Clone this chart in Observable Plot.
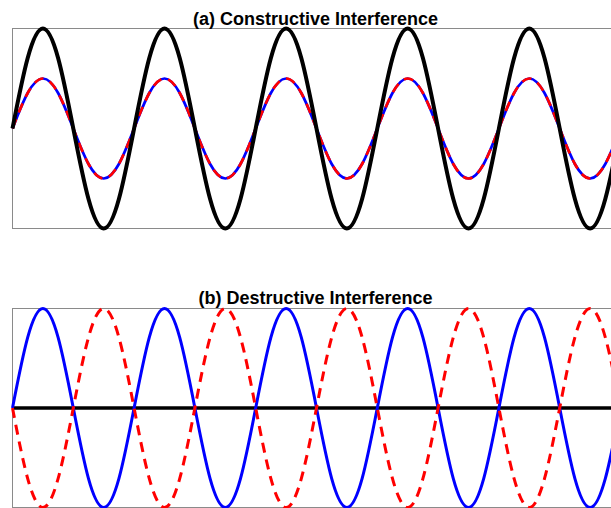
<!DOCTYPE html>
<html>
<head>
<meta charset="utf-8">
<script src="https://cdn.jsdelivr.net/npm/d3@7"></script>
<script src="https://cdn.jsdelivr.net/npm/@observablehq/plot@0.6"></script>
<style>
  html, body { margin: 0; padding: 0; background: #fff; overflow: hidden; }
  #wrap { width: 611px; height: 508px; overflow: hidden; }
  #wrap svg { display: block; max-width: none !important; }
</style>
</head>
<body>
<div id="wrap"></div>
<script>
// Sample positions, in wave cycles (eighth-cycle steps)
const sampleX = [0, .125, .25, .375, .5, .625, .75, .875,
  1, 1.125, 1.25, 1.375, 1.5, 1.625, 1.75, 1.875,
  2, 2.125, 2.25, 2.375, 2.5, 2.625, 2.75, 2.875,
  3, 3.125, 3.25, 3.375, 3.5, 3.625, 3.75, 3.875,
  4, 4.125, 4.25, 4.375, 4.5, 4.625, 4.75, 4.875, 5];

// (a) Constructive: blue and red waves coincide, black is their sum
const blueA = [0, .71, 1, .71, 0, -.71, -1, -.71, 0, .71, 1, .71, 0, -.71, -1, -.71,
  0, .71, 1, .71, 0, -.71, -1, -.71, 0, .71, 1, .71, 0, -.71, -1, -.71,
  0, .71, 1, .71, 0, -.71, -1, -.71, 0];
const redA = [0, .71, 1, .71, 0, -.71, -1, -.71, 0, .71, 1, .71, 0, -.71, -1, -.71,
  0, .71, 1, .71, 0, -.71, -1, -.71, 0, .71, 1, .71, 0, -.71, -1, -.71,
  0, .71, 1, .71, 0, -.71, -1, -.71, 0];
const blackA = [0, 1.41, 2, 1.41, 0, -1.41, -2, -1.41, 0, 1.41, 2, 1.41, 0, -1.41, -2, -1.41,
  0, 1.41, 2, 1.41, 0, -1.41, -2, -1.41, 0, 1.41, 2, 1.41, 0, -1.41, -2, -1.41,
  0, 1.41, 2, 1.41, 0, -1.41, -2, -1.41, 0];

// (b) Destructive: red is the inverted blue wave, black (sum) is flat
const blueB = [0, .71, 1, .71, 0, -.71, -1, -.71, 0, .71, 1, .71, 0, -.71, -1, -.71,
  0, .71, 1, .71, 0, -.71, -1, -.71, 0, .71, 1, .71, 0, -.71, -1, -.71,
  0, .71, 1, .71, 0, -.71, -1, -.71, 0];
const redB = [0, -.71, -1, -.71, 0, .71, 1, .71, 0, -.71, -1, -.71, 0, .71, 1, .71,
  0, -.71, -1, -.71, 0, .71, 1, .71, 0, -.71, -1, -.71, 0, .71, 1, .71,
  0, -.71, -1, -.71, 0, .71, 1, .71, 0];
const blackB = [0, 0, 0, 0, 0, 0, 0, 0, 0, 0, 0, 0, 0, 0, 0, 0,
  0, 0, 0, 0, 0, 0, 0, 0, 0, 0, 0, 0, 0, 0, 0, 0,
  0, 0, 0, 0, 0, 0, 0, 0, 0];

const titles = ["(a) Constructive Interference", "(b) Destructive Interference"];

const idx = sampleX.map((_, i) => i);
const fontFamily = "'Liberation Sans', Arial, Helvetica, sans-serif";

function lineOf(series, stroke, width, dash) {
  return Plot.line(idx, {
    x: i => sampleX[i], y: i => series[i],
    stroke, strokeWidth: width, curve: "natural",
    strokeDasharray: dash, strokeLinecap: "butt", strokeLinejoin: "round"
  });
}

function titleMark(t, dy) {
  return Plot.text([t], {
    text: d => d, frameAnchor: "top", lineAnchor: "bottom", dy, dx: -1,
    fontSize: 18, fontWeight: "bold", fill: "#000", fontFamily
  });
}

const plotA = Plot.plot({
  width: 620, height: 280,
  marginTop: 28, marginBottom: 52, marginLeft: 12, marginRight: 0,
  x: { domain: [0, 5], axis: null },
  y: { domain: [-2, 2], axis: null },
  style: { background: "transparent", overflow: "visible", fontFamily },
  marks: [
    Plot.frame({ stroke: "#8a8a8a", strokeWidth: 1 }),
    lineOf(blueA, "#0000ff", 2.7),
    lineOf(redA, "#ff0000", 2.7, "10,7"),
    lineOf(blackA, "#000000", 4),
    titleMark(titles[0], -3.5)
  ]
});

const plotB = Plot.plot({
  width: 620, height: 228,
  marginTop: 28, marginBottom: 1, marginLeft: 12, marginRight: 0,
  x: { domain: [0, 5], axis: null },
  y: { domain: [-1, 1], axis: null },
  style: { background: "transparent", overflow: "visible", fontFamily },
  marks: [
    Plot.frame({ stroke: "#8a8a8a", strokeWidth: 1 }),
    lineOf(blackB, "#000000", 3.6),
    lineOf(blueB, "#0000ff", 3),
    lineOf(redB, "#ff0000", 3, "10,7"),
    titleMark(titles[1], -4.5)
  ]
});

const wrap = document.getElementById("wrap");
wrap.appendChild(plotA);
wrap.appendChild(plotB);
</script>
</body>
</html>
